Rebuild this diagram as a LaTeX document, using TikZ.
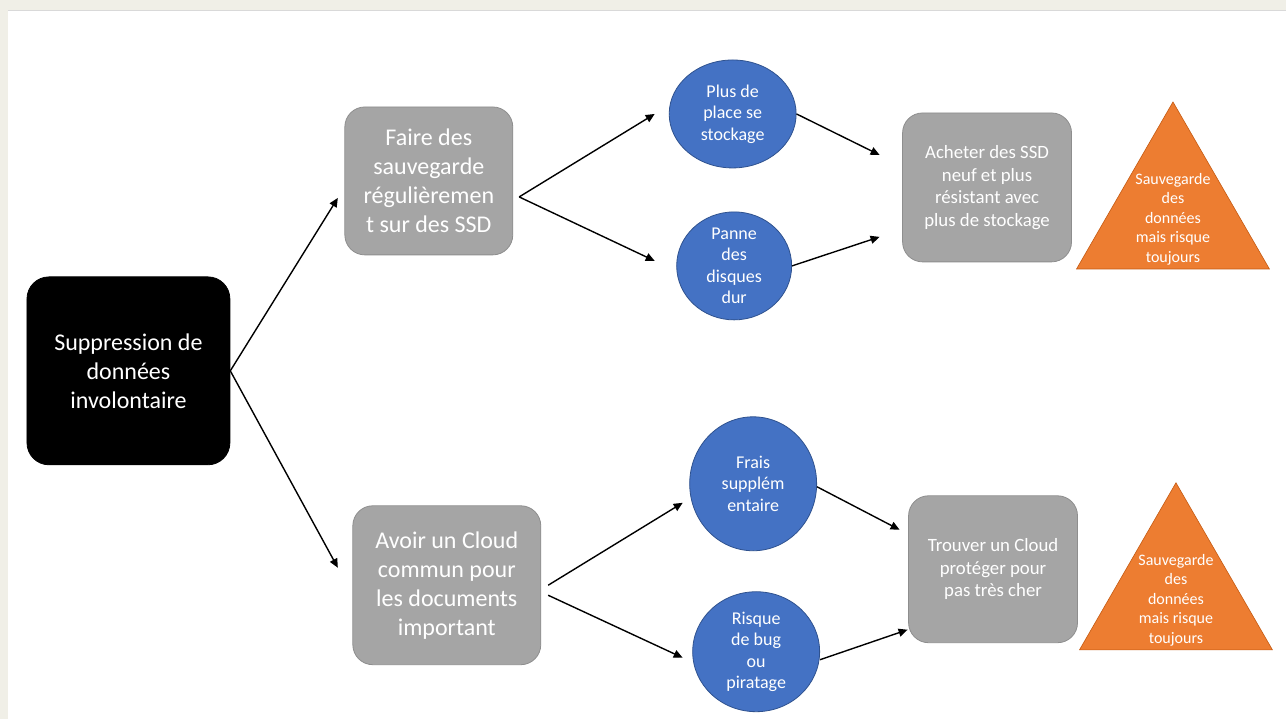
\documentclass[tikz,border=0pt]{standalone}
\usepackage{fontspec}
\setmainfont{Carlito}
\usetikzlibrary{shapes.geometric,arrows.meta}

\definecolor{pagebg}{HTML}{F0EFE7}
\definecolor{boxgray}{HTML}{A5A5A5}
\definecolor{boxline}{HTML}{8E8E8E}
\definecolor{ideablue}{HTML}{4472C4}
\definecolor{idealine}{HTML}{2F528F}
\definecolor{riskorange}{HTML}{ED7D31}
\definecolor{riskline}{HTML}{C55A11}

\newcommand{\bigtext}{\fontsize{12}{14.5}\selectfont}
\newcommand{\midtext}{\fontsize{9.4}{11.25}\selectfont}
\newcommand{\smalltext}{\fontsize{9}{10.75}\selectfont}
\newcommand{\tinytext}{\fontsize{8}{9.75}\selectfont}

\begin{document}
\begin{tikzpicture}[x=0.5pt,y=-0.5pt,
		box/.style={rectangle,rounded corners=10pt,fill=boxgray,draw=boxline,line width=0.4pt,text=white,align=center,inner sep=0pt},
		bubble/.style={ellipse,fill=ideablue,draw=idealine,line width=0.4pt,text=white,align=center,inner sep=-2pt,font=\smalltext},
		warn/.style={regular polygon,regular polygon sides=3,minimum size=111.4pt,fill=riskorange,draw=riskline,line width=0.3pt,inner sep=0pt},
		arr/.style={-{Triangle[length=4.5pt,width=4pt]},line width=0.7pt}]
	
	\fill[pagebg] (0,0) rectangle (1287,719);
	\fill[white] (8,10) rectangle (1287,719);
	\draw[black!15,line width=0.6pt] (8,10.5) -- (1287,10.5);
	
	\node[box,fill=black,draw=black,rounded corners=11pt,minimum width=101.5pt,minimum height=94pt,font=\bigtext] (loss) at (128.5,371) {Suppression de\\données\\involontaire};
	
	\node[box,minimum width=84pt,minimum height=74pt,font=\bigtext] (save) at (429,181) {Faire des\\sauvegarde\\régulièremen\\t sur des SSD};
	\node[box,minimum width=94pt,minimum height=79.5pt,font=\bigtext] (cloud) at (447,585.5) {Avoir un Cloud\\commun pour\\les documents\\important};
	
	\node[bubble,minimum width=63.5pt,minimum height=54pt] (space) at (733,114) {Plus de\\place se\\stockage};
	\node[bubble,minimum width=57.5pt,minimum height=54pt] (fail) at (734.5,266) {Panne\\des\\disques\\dur};
	\node[bubble,minimum width=63.5pt,minimum height=67pt] (fees) at (753.5,484) {Frais\\supplém\\entaire};
	\node[bubble,minimum width=63.5pt,minimum height=60pt] (bug) at (756.5,652) {Risque\\de bug\\ou\\piratage};
	
	\node[box,minimum width=84.5pt,minimum height=74.5pt,font=\midtext] (buy) at (987.5,187.5) {Acheter des SSD\\neuf et plus\\résistant avec\\plus de stockage};
	\node[box,minimum width=84.5pt,minimum height=73.5pt,font=\midtext] (find) at (993.5,569.5) {Trouver un Cloud\\protéger pour\\pas très cher};
	
	\node[warn,label={[text=white,align=center,font=\tinytext,yshift=-3pt]center:Sauvegarde\\des\\données\\mais risque\\toujours}] (keep1) at (1173.5,213.4) {};
	\node[warn,label={[text=white,align=center,font=\tinytext,yshift=-3pt]center:Sauvegarde\\des\\données\\mais risque\\toujours}] (keep2) at (1176.5,594.4) {};
	
	\coordinate (toSave) at (338,198);
	\coordinate (toCloud) at (338,568);
	\coordinate (toSpace) at (655,114);
	\coordinate (toFail) at (655,261);
	\coordinate (toFees) at (683,503);
	\coordinate (toBug) at (683,658);
	\coordinate (toBuyA) at (880,155);
	\coordinate (toBuyB) at (880,237);
	\coordinate (toFindA) at (900,530);
	\coordinate (toFindB) at (908,630);
	
	\draw[arr] (loss.east) -- (toSave);
	\draw[arr] (loss.east) -- (toCloud);
	\draw[arr] ([shift={(6,16)}]save.east) -- (toSpace);
	\draw[arr] ([shift={(6,16)}]save.east) -- (toFail);
	\draw[arr] ([shift={(7,0)}]cloud.east) -- (toFees);
	\draw[arr] ([shift={(7,10)}]cloud.east) -- (toBug);
	\draw[arr] (space.east) -- (toBuyA);
	\draw[arr] (fail.east) -- (toBuyB);
	\draw[arr] ([shift={(0,3)}]fees.east) -- (toFindA);
	\draw[arr] ([shift={(0,8)}]bug.east) -- (toFindB);
\end{tikzpicture}
\end{document}
